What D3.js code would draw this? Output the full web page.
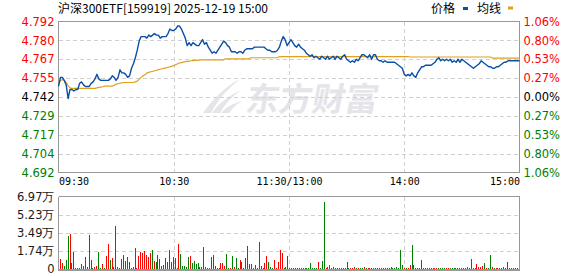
<!DOCTYPE html>
<html>
<head>
<meta charset="utf-8">
<script src="https://cdn.jsdelivr.net/npm/d3@7/dist/d3.min.js"></script>
<style>
html, body { margin: 0; padding: 0; background: #fff; }
svg { display: block; }
</style>
</head>
<body>
<svg id="chart" width="578" height="276"></svg>
<script>
var titleText = "沪深300ETF[159919] 2025-12-19 15:00";
var legendNames = ["价格", "均线"];
var timeTicks = [0, 60, 120, 180, 240];
var timeLabels = ["09:30", "10:30", "11:30/13:00", "14:00", "15:00"];
var priceTicks = [4.792, 4.7795, 4.767, 4.7545, 4.742, 4.7295, 4.717, 4.7045, 4.692];
var priceLabels = ["4.792", "4.780", "4.767", "4.755", "4.742", "4.729", "4.717", "4.704", "4.692"];
var pctLabels = ["1.06%", "0.80%", "0.53%", "0.27%", "0.00%", "0.27%", "0.53%", "0.80%", "1.06%"];
var volTicks = [6.97, 5.23, 3.49, 1.74, 0];
var volLabels = ["6.97万", "5.23万", "3.49万", "1.74万", "0"];

// one point per minute, 09:30 .. 11:30/13:00 .. 15:00
var prices = [
  4.749,4.755,4.755,4.753,4.750,4.741,4.747,4.747,4.746,4.747,
  4.747,4.751,4.752,4.750,4.749,4.749,4.749,4.751,4.752,4.754,
  4.757,4.754,4.753,4.753,4.753,4.753,4.753,4.754,4.756,4.755,
  4.753,4.755,4.760,4.758,4.758,4.757,4.755,4.756,4.761,4.764,
  4.768,4.773,4.779,4.782,4.782,4.782,4.781,4.783,4.782,4.783,
  4.784,4.783,4.783,4.781,4.782,4.782,4.782,4.784,4.787,4.786,
  4.786,4.787,4.789,4.789,4.787,4.784,4.781,4.776,4.778,4.776,
  4.778,4.777,4.776,4.776,4.778,4.780,4.777,4.778,4.775,4.773,
  4.771,4.772,4.771,4.773,4.775,4.777,4.779,4.778,4.776,4.775,
  4.772,4.772,4.772,4.771,4.772,4.772,4.771,4.773,4.774,4.774,
  4.774,4.774,4.775,4.775,4.775,4.775,4.775,4.775,4.774,4.773,
  4.773,4.772,4.772,4.772,4.773,4.775,4.779,4.782,4.780,4.776,
  4.778,4.780,4.778,4.776,4.775,4.777,4.775,4.774,4.773,4.771,
  4.770,4.769,4.770,4.768,4.769,4.768,4.767,4.769,4.768,4.767,
  4.769,4.767,4.768,4.769,4.767,4.769,4.768,4.767,4.769,4.770,
  4.767,4.766,4.765,4.766,4.765,4.767,4.766,4.768,4.770,4.770,
  4.769,4.768,4.770,4.767,4.770,4.770,4.767,4.766,4.766,4.765,
  4.766,4.765,4.765,4.765,4.765,4.765,4.764,4.763,4.762,4.761,
  4.757,4.756,4.757,4.756,4.758,4.756,4.755,4.758,4.760,4.762,
  4.762,4.763,4.763,4.763,4.763,4.764,4.765,4.767,4.768,4.766,
  4.767,4.766,4.767,4.766,4.767,4.765,4.766,4.765,4.767,4.765,
  4.767,4.766,4.765,4.764,4.763,4.762,4.761,4.762,4.763,4.764,
  4.766,4.765,4.764,4.763,4.762,4.762,4.761,4.761,4.762,4.762,
  4.763,4.764,4.765,4.765,4.766,4.766,4.766,4.766,4.766,4.766,
  4.766
];

var avgPrices = [
  4.7500,4.7530,4.7535,4.7530,4.7515,4.7495,4.7480,4.7477,4.7477,4.7477,
  4.7477,4.7477,4.7477,4.7477,4.7477,4.7477,4.7477,4.7477,4.7477,4.7477,
  4.7480,4.7484,4.7486,4.7488,4.7492,4.7492,4.7492,4.7492,4.7492,4.7498,
  4.7505,4.7508,4.7511,4.7514,4.7516,4.7516,4.7516,4.7516,4.7516,4.7516,
  4.7520,4.7525,4.7538,4.7550,4.7560,4.7567,4.7578,4.7583,4.7587,4.7590,
  4.7594,4.7597,4.7601,4.7604,4.7607,4.7610,4.7613,4.7617,4.7620,4.7624,
  4.7628,4.7634,4.7640,4.7645,4.7648,4.7651,4.7654,4.7656,4.7658,4.7660,
  4.7661,4.7662,4.7663,4.7664,4.7665,4.7666,4.7666,4.7666,4.7666,4.7666,
  4.7666,4.7666,4.7666,4.7666,4.7666,4.7666,4.7666,4.7673,4.7673,4.7673,
  4.7673,4.7673,4.7673,4.7673,4.7673,4.7673,4.7673,4.7673,4.7673,4.7673,
  4.7680,4.7680,4.7680,4.7680,4.7680,4.7680,4.7680,4.7680,4.7680,4.7680,
  4.7680,4.7680,4.7680,4.7680,4.7680,4.7688,4.7688,4.7688,4.7688,4.7688,
  4.7688,4.7688,4.7688,4.7688,4.7688,4.7688,4.7688,4.7688,4.7688,4.7688,
  4.7688,4.7688,4.7688,4.7688,4.7688,4.7688,4.7688,4.7688,4.7688,4.7688,
  4.7688,4.7688,4.7688,4.7688,4.7688,4.7688,4.7688,4.7688,4.7688,4.7688,
  4.7688,4.7688,4.7688,4.7688,4.7688,4.7688,4.7688,4.7688,4.7688,4.7688,
  4.7688,4.7688,4.7688,4.7688,4.7688,4.7688,4.7688,4.7688,4.7688,4.7688,
  4.7688,4.7688,4.7688,4.7688,4.7688,4.7688,4.7688,4.7688,4.7688,4.7688,
  4.7688,4.7688,4.7688,4.7685,4.7685,4.7685,4.7685,4.7685,4.7685,4.7685,
  4.7685,4.7685,4.7685,4.7685,4.7685,4.7685,4.7685,4.7685,4.7685,4.7685,
  4.7685,4.7685,4.7685,4.7685,4.7685,4.7685,4.7685,4.7685,4.7685,4.7685,
  4.7685,4.7685,4.7685,4.7685,4.7685,4.7685,4.7685,4.7685,4.7685,4.7685,
  4.7685,4.7685,4.7685,4.7685,4.7685,4.7685,4.7677,4.7677,4.7677,4.7677,
  4.7677,4.7677,4.7677,4.7677,4.7677,4.7677,4.7677,4.7677,4.7677,4.7677,
  4.7677
];

// volume in 万
var volumes = [
  0.96,0.6,0.3,0.87,3.2,3.4,0.6,1.66,0.1,0.1,
  0.1,0.48,0.3,1.15,0.2,3.3,0.87,0.1,0.2,0.3,
  1.63,0.1,0.45,0.1,1.25,2.4,0.87,1.08,0.2,4.13,
  0.15,0.1,1.0,1.3,0.8,1.15,0.7,0.1,0.15,2.0,
  0.1,1.25,1.66,1.5,1.7,1.3,1.15,1.5,1.82,0.75,
  0.7,1.3,0.96,0.3,0.4,1.08,0.7,1.82,0.7,1.15,
  1.1,0.1,2.4,1.4,0.3,0.25,0.15,1.15,1.25,0.6,
  0.8,0.5,0.6,0.15,0.15,2.08,0.15,0.1,0.1,1.18,
  1.34,0.3,0.1,0.1,0.54,0.54,0.3,1.44,0.1,0.1,
  1.25,0.2,1.02,0.1,0.87,0.67,0.1,1.1,2.2,0.48,
  0.48,0.1,0.36,0.1,2.6,0.3,0.1,0.54,1.25,0.67,
  0.2,0.1,0.87,0.1,0.67,1.82,1.5,0.1,0.15,1.25,
  0.1,0.1,0.1,0.1,0.1,0.1,0.1,0.1,0.1,0.1,
  0.1,0.6,0.1,0.1,0.1,0.67,0.1,0.8,6.43,0.1,
  0.15,0.36,0.1,0.2,0.1,0.1,0.1,0.1,0.1,0.1,
  0.67,0.1,0.1,0.1,0.15,0.1,0.1,0.1,0.1,0.15,
  0.1,0.1,0.1,0.1,0.1,0.1,0.1,0.1,0.1,0.1,
  0.1,0.1,0.1,0.2,0.1,0.1,0.2,0.1,1.82,0.4,
  0.1,0.1,0.1,0.4,2.34,0.4,0.1,0.1,0.1,0.87,
  0.1,0.1,0.1,0.1,0.1,0.1,0.1,0.1,0.1,0.1,
  0.1,0.1,0.1,0.1,0.1,0.1,0.1,0.1,0.1,0.1,
  0.1,0.1,0.1,0.15,0.1,0.93,0.1,0.1,0.48,0.15,
  0.2,0.25,0.54,0.1,0.1,1.34,0.2,0.1,0.1,0.1,
  0.1,0.1,0.15,0.1,0.7,0.1,0.1,0.1,0.1,0.1,
  0.15
];
// r = up minute, g = down minute
var volSides = (
  "rrgggrggrr" + "rrrgrgrgrr" + "ggrgrrgrrg" + "grrgrggrrr" + "rrrrrrrrgr" +
  "grgggggrrg" + "ggrgggggrg" + "gggrrgggrg" + "grgrrrrggr" + "grggrggrrg" +
  "rrrrrrrrrg" + "ggrrrrrggg" + "rggrgggrgg" + "gggggrgggr" + "rrgggrggrg" +
  "ggrrrgrggr" + "grrggrggrg" + "rggrgggggg" + "rgrrggrggr" + "rrrggrrrgg" +
  "ggrrgggggg" + "gggrggrgrr" + "rrgrggrgrg" + "rrrgrggggg" + "r").split("");

var left = 58.5, right = 519.5;
var pTop = 21.5, pBottom = 172.5;
var vTop = 196.5, vBottom = 269;

var RED = "#ff0000", GREEN = "#008000", BLACK = "#000000";
var GRID = "#d0d0d0", BORDER = "#999999";
var numFont = "'DejaVu Sans', Verdana, sans-serif";
var cjkFont = "'Noto Sans CJK SC', sans-serif";

var svg = d3.select("#chart");

var x = d3.scaleLinear().domain([0, 240]).range([left, right]);
var xv = d3.scaleLinear().domain([0, 240]).range([60, 518.5]);
var y = d3.scaleLinear().domain([4.692, 4.792]).range([pBottom, pTop]);
var yv = d3.scaleLinear().domain([0, 6.97]).range([vBottom, vTop]);

function tickColor(i) {
  return i < 4 ? RED : (i === 4 ? BLACK : GREEN);
}

// watermark
var wm = svg.append("g").attr("fill", "#e4e4e9");
wm.append("path")
  .attr("d", "M203,113 L211,113 C218,100 226,90 240,79 C226,86 214,98 203,113 Z" +
             "M212,113 L220,113 C225,104 232,96 242,90 C231,94 220,102 212,113 Z" +
             "M221,113 L229,113 C232,108 237,104 242,101 C234,103 226,107 221,113 Z");
wm.append("text")
  .attr("x", 264).attr("y", 111)
  .attr("font-family", cjkFont).attr("font-weight", "bold")
  .attr("font-size", 33)
  .attr("transform", "skewX(-10)")
  .text("东方财富");

// price panel grid
svg.append("g").attr("shape-rendering", "crispEdges").selectAll("line")
  .data(priceTicks.slice(1, 8))
  .enter().append("line")
  .attr("x1", left).attr("x2", right)
  .attr("y1", function (d) { return Math.round(y(d)) + 0.5; })
  .attr("y2", function (d) { return Math.round(y(d)) + 0.5; })
  .attr("stroke", GRID).attr("stroke-dasharray", "4,3");
svg.append("g").attr("shape-rendering", "crispEdges").selectAll("line")
  .data(timeTicks.slice(1, 4))
  .enter().append("line")
  .attr("x1", function (d) { return Math.round(x(d)) + 0.5; })
  .attr("x2", function (d) { return Math.round(x(d)) + 0.5; })
  .attr("y1", pTop).attr("y2", pBottom)
  .attr("stroke", GRID).attr("stroke-dasharray", "4,3");

svg.append("rect")
  .attr("x", left).attr("y", pTop)
  .attr("width", right - left).attr("height", pBottom - pTop)
  .attr("fill", "none").attr("stroke", BORDER).attr("shape-rendering", "crispEdges");

// average and price lines
var line = d3.line()
  .x(function (d, i) { return x(i); })
  .y(function (d) { return y(d); });

svg.append("path").datum(avgPrices)
  .attr("d", line).attr("fill", "none")
  .attr("stroke", "#e0a020").attr("stroke-width", 1.2);
svg.append("path").datum(prices)
  .attr("d", line).attr("fill", "none")
  .attr("stroke", "#0a4fa6").attr("stroke-width", 1.4)
  .attr("stroke-linejoin", "round");

// price axes
var axL = svg.append("g")
  .attr("transform", "translate(" + (left - 1) + ",0)")
  .call(d3.axisLeft(y).tickValues(priceTicks)
    .tickFormat(function (d, i) { return priceLabels[i]; })
    .tickSize(0).tickPadding(3));
axL.select(".domain").remove();
axL.selectAll("text")
  .attr("font-family", numFont).attr("font-size", 11.5)
  .attr("fill", function (d, i) { return tickColor(i); });

var axR = svg.append("g")
  .attr("transform", "translate(" + (right + 1) + ",0)")
  .call(d3.axisRight(y).tickValues(priceTicks)
    .tickFormat(function (d, i) { return pctLabels[i]; })
    .tickSize(0).tickPadding(3));
axR.select(".domain").remove();
axR.selectAll("text")
  .attr("font-family", numFont).attr("font-size", 11.5)
  .attr("fill", function (d, i) { return tickColor(i); });

// time axis
var axB = svg.append("g")
  .attr("transform", "translate(0," + (pBottom + 1) + ")")
  .call(d3.axisBottom(x).tickValues(timeTicks)
    .tickFormat(function (d, i) { return timeLabels[i]; })
    .tickSize(0).tickPadding(4));
axB.select(".domain").remove();
axB.selectAll("text")
  .attr("font-family", "'DejaVu Sans Mono', monospace").attr("font-size", 10)
  .attr("fill", BLACK)
  .attr("text-anchor", function (d, i) { return i === 0 ? "start" : (i === 4 ? "end" : "middle"); });

// volume panel
svg.append("g").attr("shape-rendering", "crispEdges").selectAll("line")
  .data(volTicks.slice(1, 4))
  .enter().append("line")
  .attr("x1", left).attr("x2", right)
  .attr("y1", function (d) { return Math.round(yv(d)) + 0.5; })
  .attr("y2", function (d) { return Math.round(yv(d)) + 0.5; })
  .attr("stroke", GRID).attr("stroke-dasharray", "4,3");
svg.append("g").attr("shape-rendering", "crispEdges").selectAll("line")
  .data(timeTicks.slice(1, 4))
  .enter().append("line")
  .attr("x1", function (d) { return Math.round(x(d)) + 0.5; })
  .attr("x2", function (d) { return Math.round(x(d)) + 0.5; })
  .attr("y1", vTop).attr("y2", vBottom)
  .attr("stroke", GRID).attr("stroke-dasharray", "4,3");

svg.append("g").attr("shape-rendering", "crispEdges").selectAll("rect")
  .data(volumes)
  .enter().append("rect")
  .attr("x", function (d, i) { return Math.round(xv(i)); })
  .attr("y", function (d) { return Math.min(vBottom - 1, Math.round(yv(d))); })
  .attr("width", 1)
  .attr("height", function (d) { return Math.max(1, vBottom - Math.round(yv(d))); })
  .attr("fill", function (d, i) { return volSides[i] === "r" ? RED : GREEN; });

var frame = svg.append("g").attr("stroke", BORDER).attr("shape-rendering", "crispEdges");
frame.append("line").attr("x1", left).attr("x2", right).attr("y1", vTop).attr("y2", vTop);
frame.append("line").attr("x1", left).attr("x2", left).attr("y1", vTop).attr("y2", vBottom + 2);
frame.append("line").attr("x1", right).attr("x2", right).attr("y1", vTop).attr("y2", vBottom + 2);
frame.append("line").attr("x1", left).attr("x2", right + 0.5)
  .attr("y1", vBottom + 1).attr("y2", vBottom + 1).attr("stroke-width", 2);

var axV = svg.append("g")
  .attr("transform", "translate(" + (left - 1) + ",0)")
  .call(d3.axisLeft(yv).tickValues(volTicks)
    .tickFormat(function (d, i) { return volLabels[i]; })
    .tickSize(0).tickPadding(3));
axV.select(".domain").remove();
axV.selectAll("text")
  .attr("font-family", numFont).attr("font-size", 11.5)
  .attr("fill", "#1a1a1a");

// title and legend
svg.append("text")
  .attr("x", 58).attr("y", 13)
  .attr("font-family", cjkFont).attr("font-size", 12)
  .attr("textLength", 210).attr("lengthAdjust", "spacingAndGlyphs")
  .attr("fill", BLACK)
  .text(titleText);

var legend = svg.append("g").attr("font-family", cjkFont).attr("font-size", 12);
legend.append("text").attr("x", 431).attr("y", 13).text(legendNames[0]);
legend.append("rect").attr("x", 463).attr("y", 7).attr("width", 5).attr("height", 3).attr("fill", "#0a4fa6");
legend.append("text").attr("x", 477).attr("y", 13).text(legendNames[1]);
legend.append("rect").attr("x", 508).attr("y", 6.5).attr("width", 5).attr("height", 3).attr("fill", "#e0a020");
</script>
</body>
</html>
